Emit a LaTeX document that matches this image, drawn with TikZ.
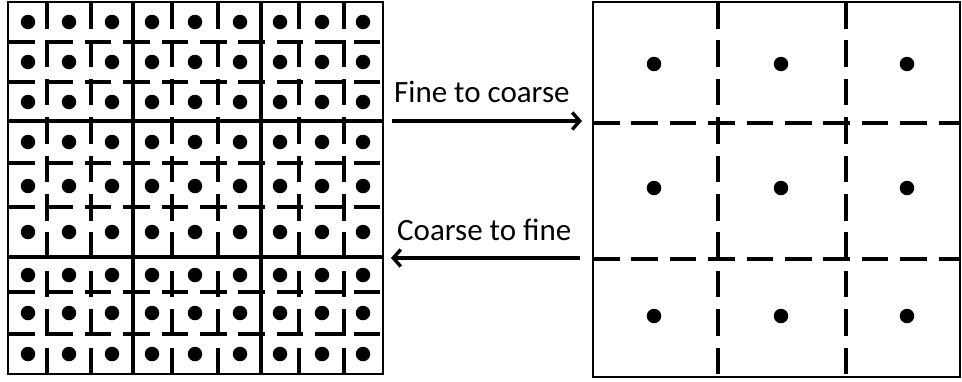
\documentclass[tikz,border=0pt]{standalone}
\usepackage{fontspec}
\setmainfont{Carlito}
\usetikzlibrary{arrows.meta}
\begin{document}
\begin{tikzpicture}[x=1pt,y=-1pt,
  frame/.style={line width=1.8pt},
  coarse/.style={line width=3.6pt},
  fine/.style={line width=3.6pt, dash pattern=on 26.5pt off 11.9pt},
  dot/.style={circle, fill=black, inner sep=0pt, minimum size=14.5pt},
  lbl/.style={font=\fontsize{31}{37}\selectfont, inner sep=0pt, anchor=base west},
  arr/.style={line width=3.4pt, -{Straight Barb[length=7.5pt,width=17pt]}}]
\useasboundingbox (0,0) rectangle (962,381);
% ---- left (fine) grid ----
\foreach \x in {47,91,172,218,299,344} \draw[fine] (\x,2) -- (\x,374);
\foreach \y in {42,82,163,207,292,334} \draw[fine] (8,\y) -- (383,\y);
\foreach \x in {133,261} \draw[coarse] (\x,2) -- (\x,374);
\foreach \y in {121,257} \draw[coarse] (8,\y) -- (383,\y);
\draw[frame] (8,2) rectangle (383,374);
\foreach \cx in {28,69,112,152,195,240,280,322,363}
  \foreach \cy in {22,62,102,142,186,232,275,313,354}
    \node[dot] (f\cx-\cy) at (\cx,\cy) {};
% ---- right (coarse) grid ----
\foreach \x in {718,846} \draw[fine] (\x,2) -- (\x,377);
\foreach \y in {123,259} \draw[fine] (593,\y) -- (960,\y);
\draw[frame] (593,2) rectangle (960,377);
\foreach \cx in {654,781,907}
  \foreach \cy in {64,188,316}
    \node[dot] (c\cx-\cy) at (\cx,\cy) {};
% ---- arrows and labels ----
\node[lbl] (ftc) at (394,102) {Fine to coarse};
\node[lbl] (ctf) at (397,240) {Coarse to fine};
\coordinate (a1s) at (392,121);
\coordinate (a1e) at (582,121);
\coordinate (a2s) at (580,258);
\coordinate (a2e) at (391,258);
\draw[arr] (a1s) -- (a1e);
\draw[arr] (a2s) -- (a2e);
\end{tikzpicture}
\end{document}
